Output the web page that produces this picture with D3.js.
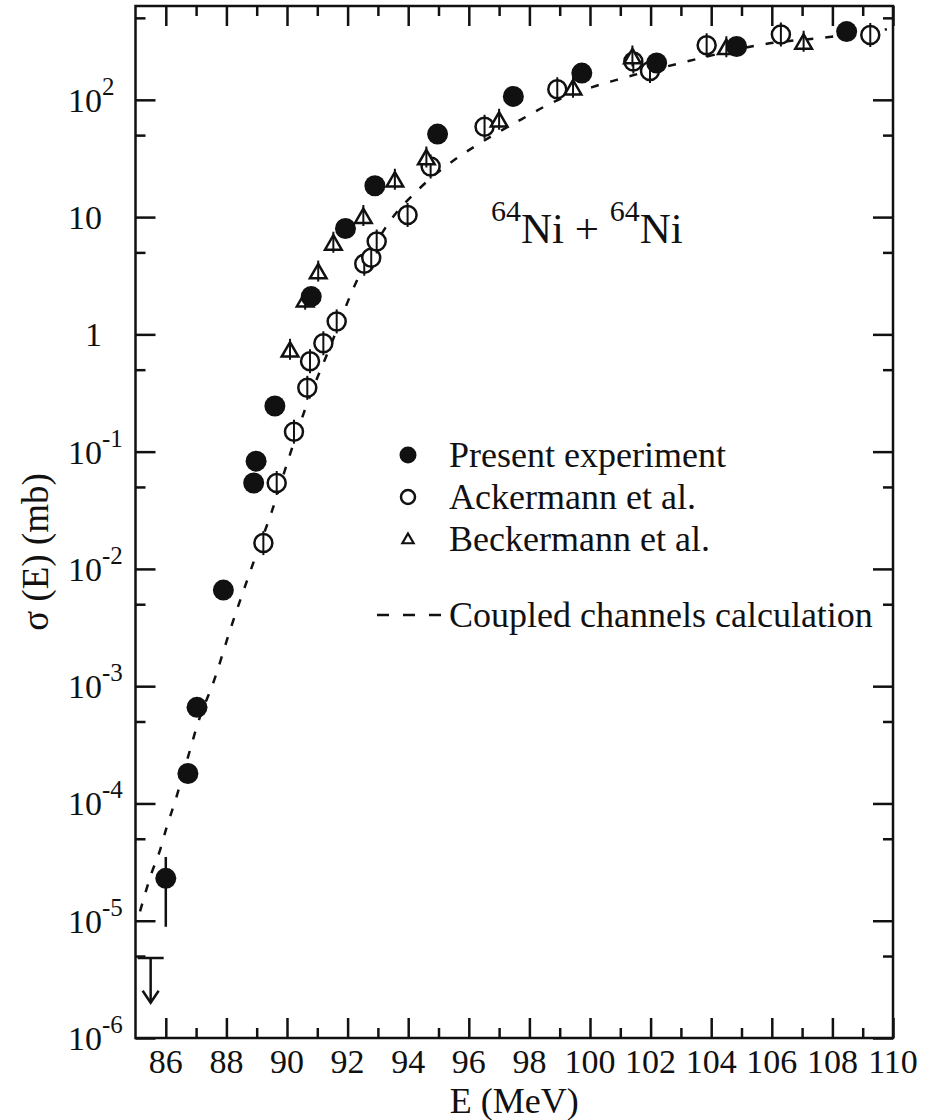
<!DOCTYPE html>
<html><head><meta charset="utf-8">
<script src="https://cdn.jsdelivr.net/npm/d3@7"></script>
<style>body{margin:0;background:#fff} svg{display:block}</style>
</head><body><svg id="c" width="932" height="1120"></svg>
<script>
// ---- data ----
const presentE     = [86.0, 86.73, 87.03, 87.9, 88.9, 88.98, 89.6, 90.8, 91.93, 92.9, 94.97, 97.47, 99.73, 102.2, 104.84, 108.47];
const presentSigma = [2.3e-5, 1.8e-4, 6.6e-4, 6.6e-3, 0.054, 0.083, 0.245, 2.1, 8.0, 18.5, 51, 107, 169, 206, 285, 382];
const presentErrE  = [86.0, 86.73];
const presentErrLo = [8.9e-6, 1.5e-4];
const presentErrHi = [3.5e-5, 2.1e-4];

const ackermannE     = [89.22, 89.66, 90.23, 90.67, 90.76, 91.2, 91.64, 92.55, 92.78, 92.96, 93.98, 94.74, 96.52, 98.92, 101.43, 101.98, 103.85, 106.3, 109.25];
const ackermannSigma = [0.0166, 0.054, 0.148, 0.35, 0.59, 0.84, 1.29, 4.0, 4.5, 6.2, 10.4, 27, 59, 123, 212, 176, 292, 360, 357];

const beckermannE     = [90.1, 90.6, 91.03, 91.53, 92.52, 93.56, 94.6, 97.0, 99.44, 101.4, 104.5, 107.05];
const beckermannSigma = [0.71, 1.9, 3.3, 5.8, 9.8, 20, 31, 65, 122, 225, 270, 300];

const ccE     = [85.15, 85.53, 85.81, 86.03, 86.3, 86.8, 87.02, 87.62, 88.12, 88.67, 88.94, 89.5, 90.04, 90.59, 91.47, 92.14, 93.3, 94.39, 95.77, 96.37, 97.9, 98.62, 100.1, 100.88, 103.19, 105.6, 108.03, 109.8];
const ccSigma = [1.2e-5, 2.55e-5, 4.0e-5, 6.3e-5, 1.03e-4, 2.86e-4, 4.5e-4, 1.17e-3, 3.0e-3, 7.8e-3, 0.0123, 0.031, 0.085, 0.227, 0.84, 2.3, 8.5, 17.7, 34, 42.7, 72, 91, 129, 148, 212, 294, 347, 400];

const limitE = [85.5];
const limitSigma = [4.8e-6];
const limitArrowTo = [2.0e-6];

const xDomain = [85, 110];
const yDomain = [1e-6, 631];
const xMajor = [86, 88, 90, 92, 94, 96, 98, 100, 102, 104, 106, 108, 110];
const xMinor = [87, 89, 91, 93, 95, 97, 99, 101, 103, 105, 107, 109];
const yMajor = [1e-6, 1e-5, 1e-4, 1e-3, 1e-2, 1e-1, 1, 10, 100];
const yMinor = [5e-6, 5e-5, 5e-4, 5e-3, 5e-2, 0.5, 5, 50, 500];
const yLabelBase = ["10", "10", "10", "10", "10", "10", "1", "10", "10"];
const yLabelSup  = ["-6", "-5", "-4", "-3", "-2", "-1", "", "", "2"];

const legendLabels = ["Present experiment", "Ackermann et al.", "Beckermann et al.", "Coupled channels calculation"];

// ---- layout ----
const W = 932, H = 1120;
const m = {l: 135.5, t: 6, r: 39, b: 82};
const FONT = "'Liberation Serif','Times New Roman',serif";
const svg = d3.select("#c");
const x = d3.scaleLinear().domain(xDomain).range([m.l, W - m.r]);
const y = d3.scaleLog().domain(yDomain).range([H - m.b, m.t]);
const x0 = m.l, x1 = W - m.r, y0 = H - m.b, y1 = m.t;

svg.append("rect").attr("width", W).attr("height", H).attr("fill", "#fff");

function styleAxis(g) {
  g.select(".domain").remove();
  g.selectAll(".tick line").attr("stroke", "#111").attr("stroke-width", 2.5);
  g.selectAll("text").remove();
}
svg.append("g").attr("transform", `translate(0,${y0})`).call(d3.axisBottom(x).tickValues(xMajor).tickSize(-20).tickFormat("")).call(styleAxis);
svg.append("g").attr("transform", `translate(0,${y0})`).call(d3.axisBottom(x).tickValues(xMinor).tickSize(-10).tickFormat("")).call(styleAxis);
svg.append("g").attr("transform", `translate(0,${y1})`).call(d3.axisTop(x).tickValues(xMajor).tickSize(-20).tickFormat("")).call(styleAxis);
svg.append("g").attr("transform", `translate(0,${y1})`).call(d3.axisTop(x).tickValues(xMinor).tickSize(-10).tickFormat("")).call(styleAxis);
svg.append("g").attr("transform", `translate(${x0},0)`).call(d3.axisLeft(y).tickValues(yMajor).tickSize(-20).tickFormat("")).call(styleAxis);
svg.append("g").attr("transform", `translate(${x0},0)`).call(d3.axisLeft(y).tickValues(yMinor).tickSize(-10).tickFormat("")).call(styleAxis);
svg.append("g").attr("transform", `translate(${x1},0)`).call(d3.axisRight(y).tickValues(yMajor).tickSize(-20).tickFormat("")).call(styleAxis);
svg.append("g").attr("transform", `translate(${x1},0)`).call(d3.axisRight(y).tickValues(yMinor).tickSize(-10).tickFormat("")).call(styleAxis);

svg.append("rect").attr("x", x0).attr("y", y1).attr("width", x1 - x0).attr("height", y0 - y1)
  .attr("fill", "none").attr("stroke", "#111").attr("stroke-width", 2.5);

// x tick labels
svg.append("g").selectAll("text").data(xMajor).join("text")
  .attr("x", d => x(d)).attr("y", y0 + 35).attr("text-anchor", "middle")
  .attr("font-family", FONT).attr("font-size", 34).attr("fill", "#111").text(d => d);

// y tick labels
const yl = svg.append("g");
yMajor.forEach((v, i) => {
  yl.append("text").attr("font-family", FONT).attr("fill", "#111").attr("font-size", 34)
    .attr("x", 102).attr("y", y(v) + 12).attr("text-anchor", "end").text(yLabelBase[i]);
  if (yLabelSup[i]) {
    yl.append("text").attr("font-family", FONT).attr("fill", "#111").attr("font-size", 25)
      .attr("x", 102).attr("y", y(v) - 5).text(yLabelSup[i]);
  }
});

// axis titles
svg.append("text").attr("x", (x0 + x1) / 2).attr("y", 1113).attr("text-anchor", "middle")
  .attr("font-family", FONT).attr("font-size", 36).attr("fill", "#111").text("E (MeV)");
svg.append("text").attr("transform", `translate(48,552) rotate(-90)`).attr("text-anchor", "middle")
  .attr("font-family", FONT).attr("font-size", 37).attr("fill", "#111").text("σ (E) (mb)");

// clip
svg.append("clipPath").attr("id", "clip").append("rect").attr("x", x0).attr("y", y1).attr("width", x1 - x0).attr("height", y0 - y1);
const plot = svg.append("g").attr("clip-path", "url(#clip)");

// coupled-channels curve
const ccData = ccE.map((e, i) => ({e, s: ccSigma[i]}));
plot.append("path").datum(ccData)
  .attr("d", d3.line().x(d => x(d.e)).y(d => y(d.s)).curve(d3.curveMonotoneX))
  .attr("fill", "none").attr("stroke", "#111").attr("stroke-width", 2.5).attr("stroke-dasharray", "8,12");

// upper limit
limitE.forEach((e, i) => {
  const cx = x(e), ty = y(limitSigma[i]), by = y(limitArrowTo[i]);
  plot.append("line").attr("x1", cx - 13).attr("x2", cx + 13).attr("y1", ty).attr("y2", ty).attr("stroke", "#111").attr("stroke-width", 2.5);
  plot.append("line").attr("x1", cx).attr("x2", cx).attr("y1", ty).attr("y2", by).attr("stroke", "#111").attr("stroke-width", 2.5);
  plot.append("polyline").attr("points", `${cx - 8},${by - 12} ${cx},${by} ${cx + 8},${by - 12}`)
    .attr("fill", "none").attr("stroke", "#111").attr("stroke-width", 2.5);
});

// Ackermann open circles
const ack = ackermannE.map((e, i) => ({e, s: ackermannSigma[i]}));
const ag = plot.append("g").selectAll("g").data(ack).join("g").attr("transform", d => `translate(${x(d.e)},${y(d.s)})`);
ag.append("circle").attr("r", 9).attr("fill", "#fff").attr("stroke", "#111").attr("stroke-width", 2.5);
ag.append("line").attr("y1", -12).attr("y2", 12).attr("stroke", "#111").attr("stroke-width", 2);

// Beckermann triangles
const bec = beckermannE.map((e, i) => ({e, s: beckermannSigma[i]}));
const bg = plot.append("g").selectAll("g").data(bec).join("g").attr("transform", d => `translate(${x(d.e)},${y(d.s)})`);
bg.append("path").attr("d", d3.symbol(d3.symbolTriangle, 120)).attr("fill", "#fff").attr("stroke", "#111").attr("stroke-width", 2.5);
bg.append("line").attr("y1", -13).attr("y2", 8).attr("stroke", "#111").attr("stroke-width", 2);

// present error bars + filled circles
plot.append("g").selectAll("line").data(presentErrE).join("line")
  .attr("x1", d => x(d)).attr("x2", d => x(d))
  .attr("y1", (d, i) => y(presentErrHi[i])).attr("y2", (d, i) => y(presentErrLo[i]))
  .attr("stroke", "#111").attr("stroke-width", 2.5);
const pres = presentE.map((e, i) => ({e, s: presentSigma[i]}));
plot.append("g").selectAll("circle").data(pres).join("circle")
  .attr("cx", d => x(d.e)).attr("cy", d => y(d.s)).attr("r", 10.5).attr("fill", "#111");

// annotation
const ann = svg.append("text").attr("x", 491).attr("y", 243).attr("font-family", FONT).attr("fill", "#111").attr("font-size", 43);
ann.append("tspan").attr("font-size", 30).attr("dy", -22).text("64");
ann.append("tspan").attr("dy", 22).text("Ni + ");
ann.append("tspan").attr("font-size", 30).attr("dy", -22).text("64");
ann.append("tspan").attr("dy", 22).text("Ni");

// legend
const lg = svg.append("g");
const lx = 449, lbase = [467, 509, 551, 627];
lg.append("circle").attr("cx", 408).attr("cy", lbase[0] - 12).attr("r", 8.5).attr("fill", "#111");
lg.append("circle").attr("cx", 408).attr("cy", lbase[1] - 12).attr("r", 7).attr("fill", "#fff").attr("stroke", "#111").attr("stroke-width", 2.5);
lg.append("path").attr("transform", `translate(408,${lbase[2] - 11})`).attr("d", d3.symbol(d3.symbolTriangle, 55))
  .attr("fill", "#fff").attr("stroke", "#111").attr("stroke-width", 2.2);
lg.append("line").attr("x1", 377).attr("x2", 441).attr("y1", lbase[3] - 12).attr("y2", lbase[3] - 12)
  .attr("stroke", "#111").attr("stroke-width", 2.5).attr("stroke-dasharray", "12,14");
lg.selectAll("text").data(legendLabels).join("text")
  .attr("x", lx).attr("y", (d, i) => lbase[i]).attr("font-family", FONT).attr("font-size", 36).attr("fill", "#111").text(d => d);
</script></body></html>
